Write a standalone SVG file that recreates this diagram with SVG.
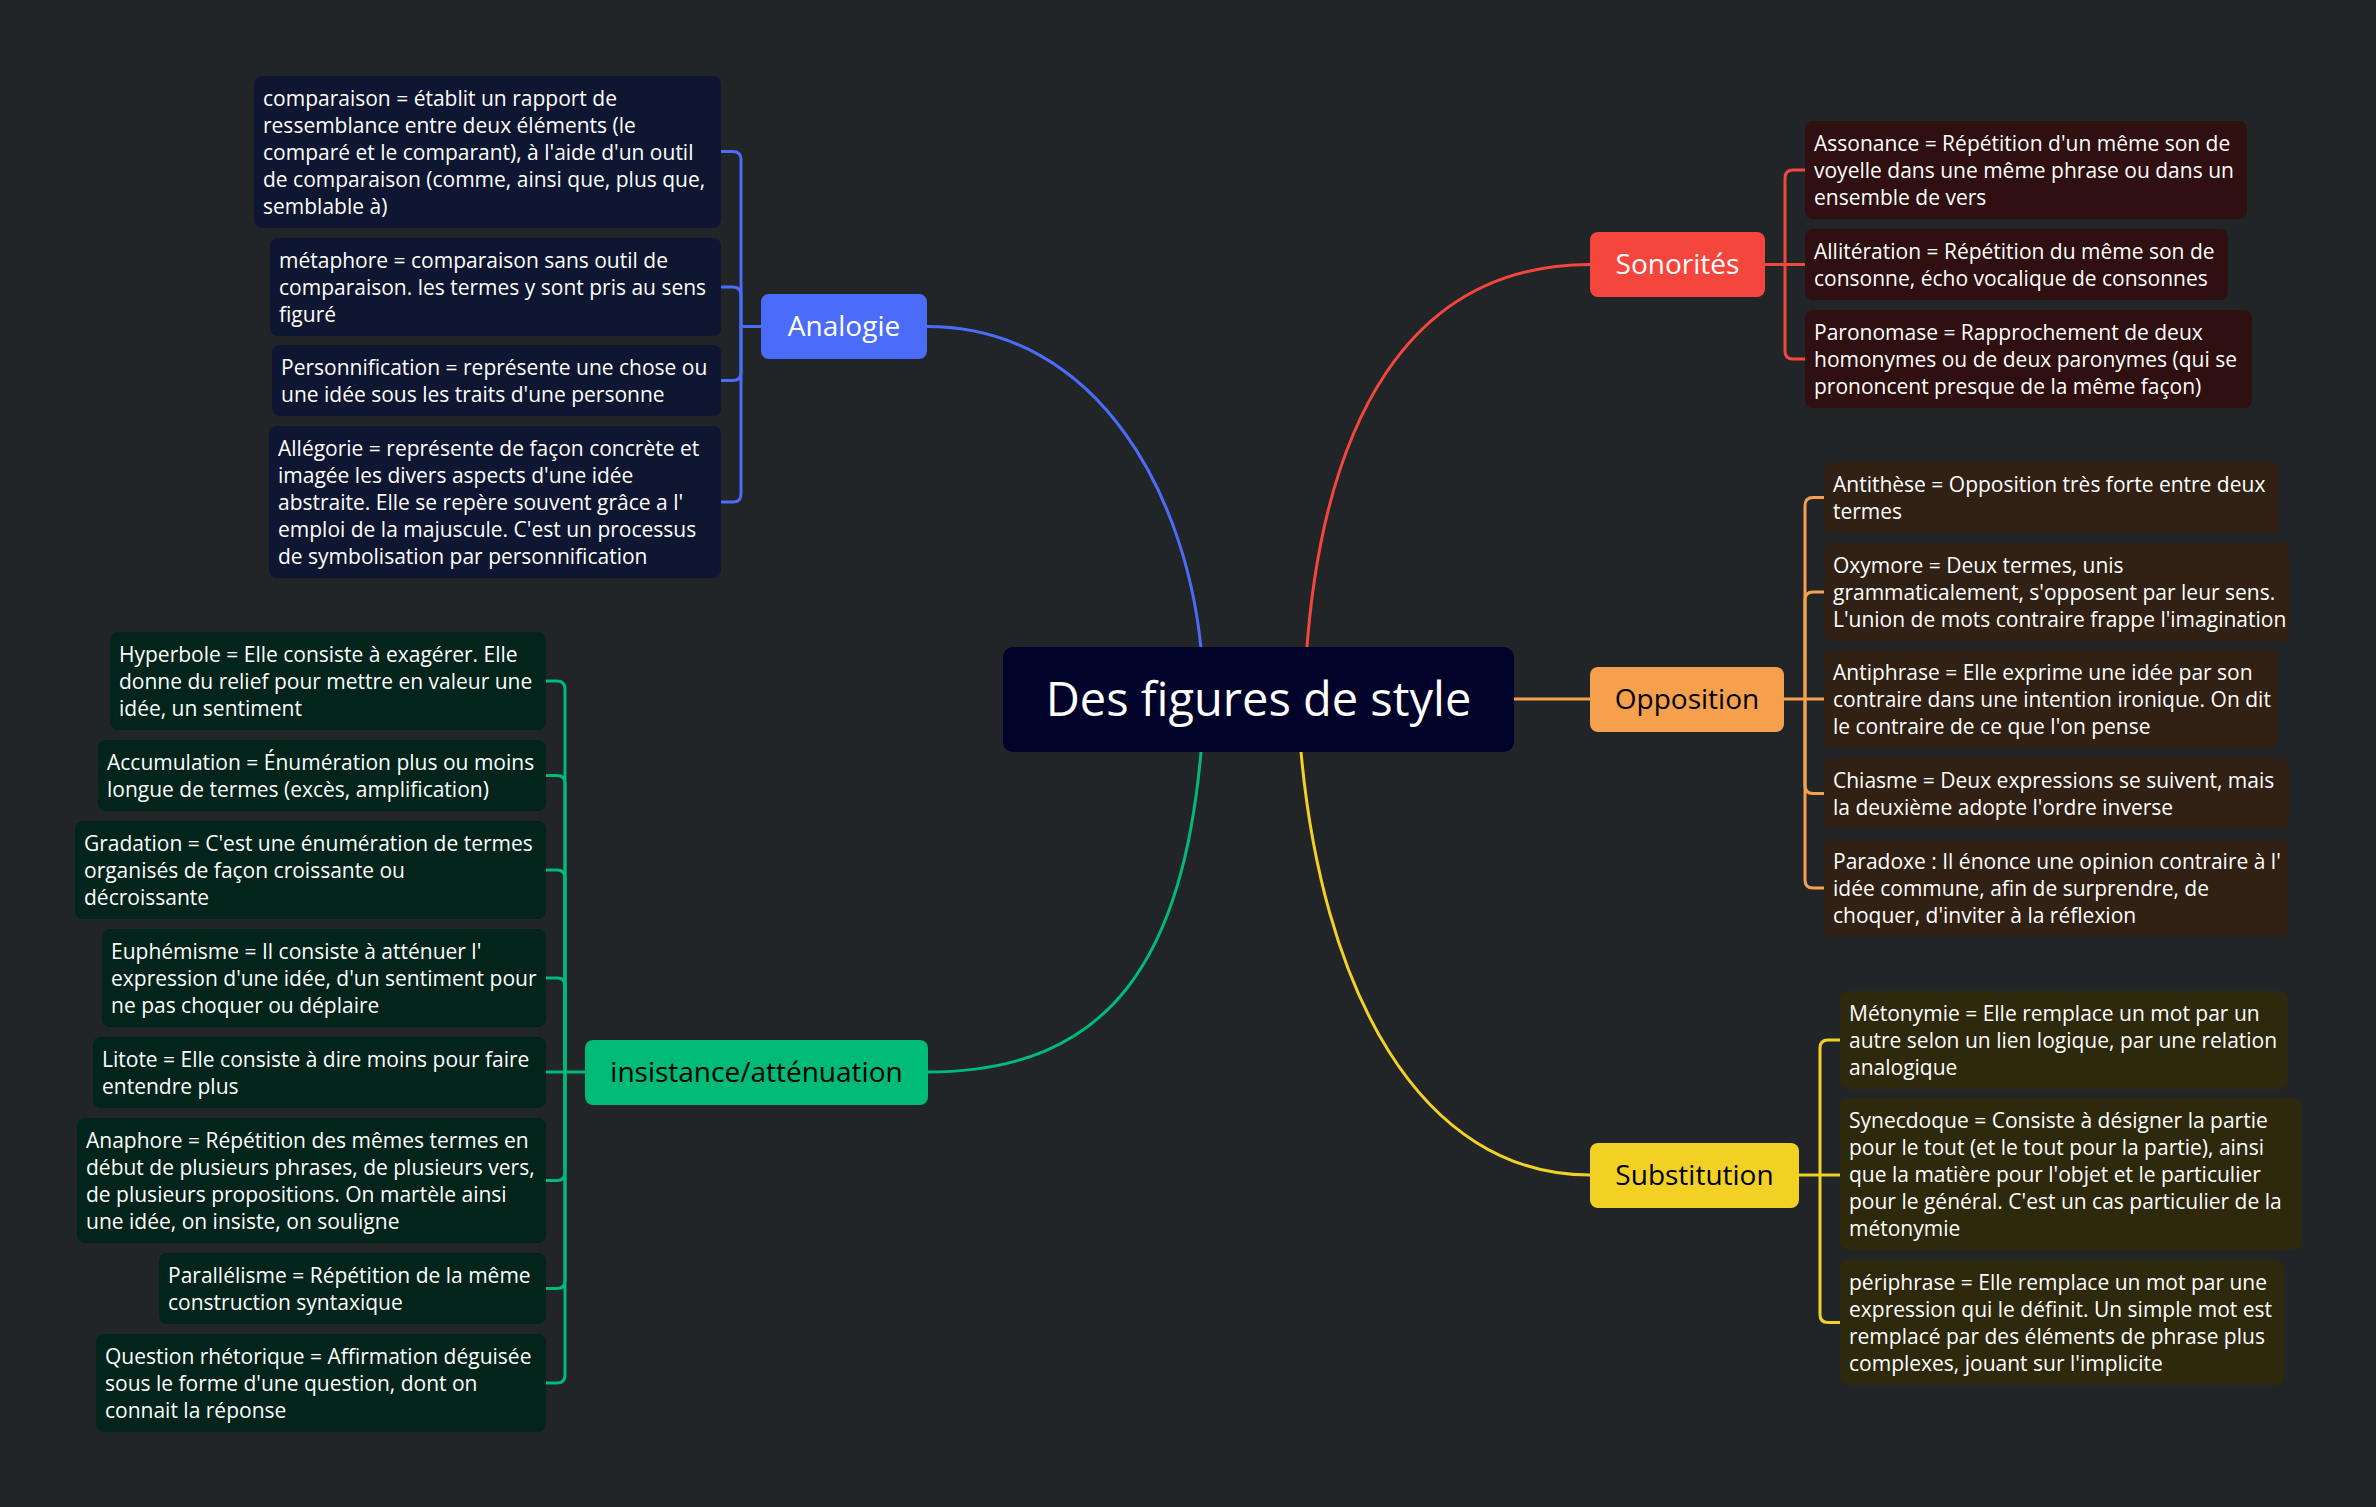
<svg xmlns="http://www.w3.org/2000/svg" width="2376" height="1507" viewBox="0 0 2376 1507">
<style>
text{font-family:"Open Sans","Noto Sans","Liberation Sans",sans-serif}
.lt{font-size:21px;fill:#ffffff}
.bt{font-size:28px;text-anchor:middle}
.ct{font-size:47px;fill:#ffffff;text-anchor:middle}
.c{fill:none;stroke-width:3;stroke-linecap:round}
.cb{stroke:#4B6CF8}.cr{stroke:#F5463E}.co{stroke:#F5A04C}.cy{stroke:#F2D125}.cg{stroke:#00BA78}
.lb{fill:#0F1631}.lr{fill:#2F0F0F}.lo{fill:#312114}.ly{fill:#2E290C}.lg{fill:#02241A}
</style>
<rect x="0" y="0" width="2376" height="1507" fill="#212528"/>
<g id="connectors">
<path class="c cb" d="M927,326.5 C1100,326.5 1190,500 1202,660"/>
<path class="c cr" d="M1306,660 C1322,420 1410,264.5 1590,264.5"/>
<path class="c cg" d="M1202,740 C1185,960 1110,1072 927,1072"/>
<path class="c cy" d="M1300,740 C1320,990 1420,1175 1590,1175"/>
<path class="c co" d="M1514,699 H1590"/>
<path class="c cb" d="M761,326.5 H741 V159.5 Q741,151.5 733,151.5 H721"/>
<path class="c cb" d="M741,326.5 V295 Q741,287 733,287 H721"/>
<path class="c cb" d="M741,326.5 V372.5 Q741,380.5 733,380.5 H721"/>
<path class="c cb" d="M741,326.5 V494 Q741,502 733,502 H721"/>
<path class="c cr" d="M1765,264.5 H1805"/>
<path class="c cr" d="M1785,264.5 V178 Q1785,170 1793,170 H1805"/>
<path class="c cr" d="M1785,264.5 V351 Q1785,359 1793,359 H1805"/>
<path class="c co" d="M1784,699 H1824"/>
<path class="c co" d="M1805,699 V505.5 Q1805,497.5 1813,497.5 H1824"/>
<path class="c co" d="M1805,699 V600 Q1805,592 1813,592 H1824"/>
<path class="c co" d="M1805,699 V785.5 Q1805,793.5 1813,793.5 H1824"/>
<path class="c co" d="M1805,699 V880 Q1805,888 1813,888 H1824"/>
<path class="c cy" d="M1799,1175 H1840"/>
<path class="c cy" d="M1820,1175 V1048 Q1820,1040 1828,1040 H1840"/>
<path class="c cy" d="M1820,1175 V1314.5 Q1820,1322.5 1828,1322.5 H1840"/>
<path class="c cg" d="M585,1072 H546"/>
<path class="c cg" d="M565,1072 V689 Q565,681 557,681 H546"/>
<path class="c cg" d="M565,1072 V783.5 Q565,775.5 557,775.5 H546"/>
<path class="c cg" d="M565,1072 V878 Q565,870 557,870 H546"/>
<path class="c cg" d="M565,1072 V986 Q565,978 557,978 H546"/>
<path class="c cg" d="M565,1072 V1172.5 Q565,1180.5 557,1180.5 H546"/>
<path class="c cg" d="M565,1072 V1280.5 Q565,1288.5 557,1288.5 H546"/>
<path class="c cg" d="M565,1072 V1375 Q565,1383 557,1383 H546"/>
</g>
<g id="central">
<rect x="1003" y="647" width="511" height="105" rx="10" fill="#000229"/>
<text class="ct" x="1258.5" y="716">Des figures de style</text>
</g>
<g id="analogie">
<rect x="761" y="294" width="166" height="65" rx="8" fill="#4B6CF8"/>
<text class="bt" x="844" y="336" fill="#ffffff">Analogie</text>
</g>
<g id="sonorites">
<rect x="1590" y="232" width="175" height="65" rx="8" fill="#F5463E"/>
<text class="bt" x="1677.5" y="274" fill="#ffffff">Sonorités</text>
</g>
<g id="opposition">
<rect x="1590" y="667" width="194" height="65" rx="8" fill="#F5A04C"/>
<text class="bt" x="1687" y="709" fill="#000000">Opposition</text>
</g>
<g id="substitution">
<rect x="1590" y="1143" width="209" height="65" rx="8" fill="#F2D125"/>
<text class="bt" x="1694.5" y="1185" fill="#000000">Substitution</text>
</g>
<g id="insistance">
<rect x="585" y="1040" width="343" height="65" rx="8" fill="#00BA78"/>
<text class="bt" x="756.5" y="1082" fill="#000000">insistance/atténuation</text>
</g>
<g id="comparaison">
<rect class="lb" x="254" y="76" width="467" height="152" rx="8"/>
<text class="lt"><tspan x="263" y="106">comparaison = établit un rapport de</tspan><tspan x="263" y="133">ressemblance entre deux éléments (le</tspan><tspan x="263" y="160">comparé et le comparant), à l'aide d'un outil</tspan><tspan x="263" y="187">de comparaison (comme, ainsi que, plus que,</tspan><tspan x="263" y="214">semblable à)</tspan></text>
</g>
<g id="metaphore">
<rect class="lb" x="270" y="238" width="451" height="98" rx="8"/>
<text class="lt"><tspan x="279" y="268">métaphore = comparaison sans outil de</tspan><tspan x="279" y="295">comparaison. les termes y sont pris au sens</tspan><tspan x="279" y="322">figuré</tspan></text>
</g>
<g id="personnification">
<rect class="lb" x="272" y="345" width="449" height="71" rx="8"/>
<text class="lt"><tspan x="281" y="375">Personnification = représente une chose ou</tspan><tspan x="281" y="402">une idée sous les traits d'une personne</tspan></text>
</g>
<g id="allegorie">
<rect class="lb" x="269" y="426" width="452" height="152" rx="8"/>
<text class="lt"><tspan x="278" y="456">Allégorie = représente de façon concrète et</tspan><tspan x="278" y="483">imagée les divers aspects d'une idée</tspan><tspan x="278" y="510">abstraite. Elle se repère souvent grâce a l'</tspan><tspan x="278" y="537">emploi de la majuscule. C'est un processus</tspan><tspan x="278" y="564">de symbolisation par personnification</tspan></text>
</g>
<g id="assonance">
<rect class="lr" x="1805" y="121" width="442" height="98" rx="8"/>
<text class="lt"><tspan x="1814" y="151">Assonance = Répétition d'un même son de</tspan><tspan x="1814" y="178">voyelle dans une même phrase ou dans un</tspan><tspan x="1814" y="205">ensemble de vers</tspan></text>
</g>
<g id="alliteration">
<rect class="lr" x="1805" y="229" width="423" height="71" rx="8"/>
<text class="lt"><tspan x="1814" y="259">Allitération = Répétition du même son de</tspan><tspan x="1814" y="286">consonne, écho vocalique de consonnes</tspan></text>
</g>
<g id="paronomase">
<rect class="lr" x="1805" y="310" width="447" height="98" rx="8"/>
<text class="lt"><tspan x="1814" y="340">Paronomase = Rapprochement de deux</tspan><tspan x="1814" y="367">homonymes ou de deux paronymes (qui se</tspan><tspan x="1814" y="394">prononcent presque de la même façon)</tspan></text>
</g>
<g id="antithese">
<rect class="lo" x="1824" y="462" width="455" height="71" rx="8"/>
<text class="lt"><tspan x="1833" y="492">Antithèse = Opposition très forte entre deux</tspan><tspan x="1833" y="519">termes</tspan></text>
</g>
<g id="oxymore">
<rect class="lo" x="1824" y="543" width="465" height="98" rx="8"/>
<text class="lt"><tspan x="1833" y="573">Oxymore = Deux termes, unis</tspan><tspan x="1833" y="600">grammaticalement, s'opposent par leur sens.</tspan><tspan x="1833" y="627">L'union de mots contraire frappe l'imagination</tspan></text>
</g>
<g id="antiphrase">
<rect class="lo" x="1824" y="650" width="454" height="98" rx="8"/>
<text class="lt"><tspan x="1833" y="680">Antiphrase = Elle exprime une idée par son</tspan><tspan x="1833" y="707">contraire dans une intention ironique. On dit</tspan><tspan x="1833" y="734">le contraire de ce que l'on pense</tspan></text>
</g>
<g id="chiasme">
<rect class="lo" x="1824" y="758" width="465" height="71" rx="8"/>
<text class="lt"><tspan x="1833" y="788">Chiasme = Deux expressions se suivent, mais</tspan><tspan x="1833" y="815">la deuxième adopte l'ordre inverse</tspan></text>
</g>
<g id="paradoxe">
<rect class="lo" x="1824" y="839" width="464" height="98" rx="8"/>
<text class="lt"><tspan x="1833" y="869">Paradoxe : Il énonce une opinion contraire à l'</tspan><tspan x="1833" y="896">idée commune, afin de surprendre, de</tspan><tspan x="1833" y="923">choquer, d'inviter à la réflexion</tspan></text>
</g>
<g id="metonymie">
<rect class="ly" x="1840" y="991" width="448" height="98" rx="8"/>
<text class="lt"><tspan x="1849" y="1021">Métonymie = Elle remplace un mot par un</tspan><tspan x="1849" y="1048">autre selon un lien logique, par une relation</tspan><tspan x="1849" y="1075">analogique</tspan></text>
</g>
<g id="synecdoque">
<rect class="ly" x="1840" y="1098" width="461" height="152" rx="8"/>
<text class="lt"><tspan x="1849" y="1128">Synecdoque = Consiste à désigner la partie</tspan><tspan x="1849" y="1155">pour le tout (et le tout pour la partie), ainsi</tspan><tspan x="1849" y="1182">que la matière pour l'objet et le particulier</tspan><tspan x="1849" y="1209">pour le général. C'est un cas particulier de la</tspan><tspan x="1849" y="1236">métonymie</tspan></text>
</g>
<g id="periphrase">
<rect class="ly" x="1840" y="1260" width="444" height="125" rx="8"/>
<text class="lt"><tspan x="1849" y="1290">périphrase = Elle remplace un mot par une</tspan><tspan x="1849" y="1317">expression qui le définit. Un simple mot est</tspan><tspan x="1849" y="1344">remplacé par des éléments de phrase plus</tspan><tspan x="1849" y="1371">complexes, jouant sur l'implicite</tspan></text>
</g>
<g id="hyperbole">
<rect class="lg" x="110" y="632" width="436" height="98" rx="8"/>
<text class="lt"><tspan x="119" y="662">Hyperbole = Elle consiste à exagérer. Elle</tspan><tspan x="119" y="689">donne du relief pour mettre en valeur une</tspan><tspan x="119" y="716">idée, un sentiment</tspan></text>
</g>
<g id="accumulation">
<rect class="lg" x="98" y="740" width="448" height="71" rx="8"/>
<text class="lt"><tspan x="107" y="770">Accumulation = Énumération plus ou moins</tspan><tspan x="107" y="797">longue de termes (excès, amplification)</tspan></text>
</g>
<g id="gradation">
<rect class="lg" x="75" y="821" width="471" height="98" rx="8"/>
<text class="lt"><tspan x="84" y="851">Gradation = C'est une énumération de termes</tspan><tspan x="84" y="878">organisés de façon croissante ou</tspan><tspan x="84" y="905">décroissante</tspan></text>
</g>
<g id="euphemisme">
<rect class="lg" x="102" y="929" width="444" height="98" rx="8"/>
<text class="lt"><tspan x="111" y="959">Euphémisme = Il consiste à atténuer l'</tspan><tspan x="111" y="986">expression d'une idée, d'un sentiment pour</tspan><tspan x="111" y="1013">ne pas choquer ou déplaire</tspan></text>
</g>
<g id="litote">
<rect class="lg" x="93" y="1037" width="453" height="71" rx="8"/>
<text class="lt"><tspan x="102" y="1067">Litote = Elle consiste à dire moins pour faire</tspan><tspan x="102" y="1094">entendre plus</tspan></text>
</g>
<g id="anaphore">
<rect class="lg" x="77" y="1118" width="469" height="125" rx="8"/>
<text class="lt"><tspan x="86" y="1148">Anaphore = Répétition des mêmes termes en</tspan><tspan x="86" y="1175">début de plusieurs phrases, de plusieurs vers,</tspan><tspan x="86" y="1202">de plusieurs propositions. On martèle ainsi</tspan><tspan x="86" y="1229">une idée, on insiste, on souligne</tspan></text>
</g>
<g id="parallelisme">
<rect class="lg" x="159" y="1253" width="387" height="71" rx="8"/>
<text class="lt"><tspan x="168" y="1283">Parallélisme = Répétition de la même</tspan><tspan x="168" y="1310">construction syntaxique</tspan></text>
</g>
<g id="question">
<rect class="lg" x="96" y="1334" width="450" height="98" rx="8"/>
<text class="lt"><tspan x="105" y="1364">Question rhétorique = Affirmation déguisée</tspan><tspan x="105" y="1391">sous le forme d'une question, dont on</tspan><tspan x="105" y="1418">connait la réponse</tspan></text>
</g>
</svg>
